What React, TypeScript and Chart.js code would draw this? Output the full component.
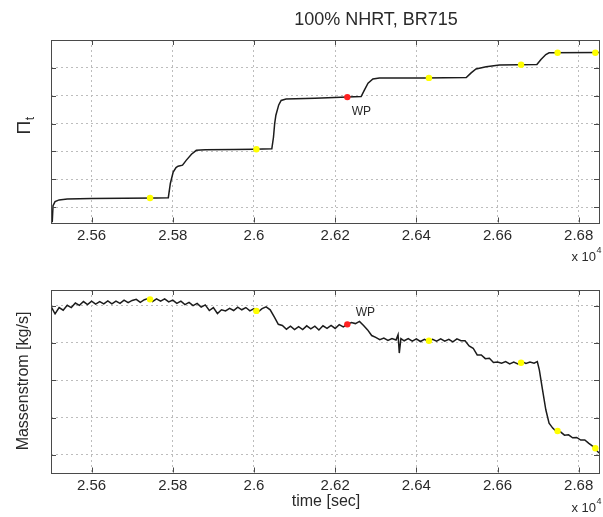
import React, { useEffect, useRef } from "react";
import { Chart, registerables } from "chart.js";

Chart.register(...registerables);

// ---------- data ----------
const TITLE = "100% NHRT, BR715";
const X_LABEL = "time [sec]";
const Y_LABEL_BOTTOM = "Massenstrom [kg/s]";
const WP_LABEL = "WP";

const X_MIN = 25500;
const X_MAX = 26850;
const X_TICKS = [25600, 25800, 26000, 26200, 26400, 26600, 26800];

const PI_Y_MIN = 0.45;
const PI_Y_MAX = 7.0;
const PI_Y_TICKS = [1, 2, 3, 4, 5, 6];

const MASS_Y_MIN = 0.53;
const MASS_Y_MAX = 5.42;
const MASS_Y_TICKS = [1, 2, 3, 4, 5];

const PI_TIME = [
  25503, 25505, 25510, 25520, 25540, 25600, 25680, 25760, 25789, 25794, 25801, 25808,
  25813, 25824, 25833, 25846, 25858, 25880, 25950, 26000, 26044, 26048, 26051, 26054,
  26061, 26067, 26079, 26150, 26230, 26264, 26272, 26281, 26293, 26309, 26420, 26523,
  26535, 26547, 26572, 26605, 26650, 26697, 26707, 26719, 26727, 26850,
];
const PI_VALUES = [
  0.45, 1.05, 1.2, 1.26, 1.29, 1.31, 1.32, 1.33, 1.34, 1.85, 2.26, 2.42,
  2.47, 2.51, 2.68, 2.9, 3.04, 3.06, 3.07, 3.08, 3.1, 3.5, 4.0, 4.3,
  4.67, 4.83, 4.88, 4.91, 4.95, 4.97, 5.2, 5.45, 5.6, 5.64, 5.64, 5.65,
  5.82, 5.96, 6.04, 6.1, 6.11, 6.12, 6.3, 6.48, 6.54, 6.55,
];

const MARK_TIME = [25744, 26006, 26431, 26658, 26748, 26841];
const PI_MARK_VALUES = [1.33, 3.08, 5.64, 6.11, 6.54, 6.54];
const MASS_MARK_VALUES = [5.17, 4.86, 4.06, 3.47, 1.64, 1.18];

const WP_TIME = [26230];
const PI_WP_VALUES = [4.95];
const MASS_WP_VALUES = [4.5];

const MASS_TIME = [
  25500, 25510, 25520, 25530, 25540, 25550, 25560, 25570, 25580, 25590,
  25600, 25610, 25620, 25630, 25640, 25650, 25660, 25670, 25680, 25690,
  25700, 25710, 25720, 25730, 25740, 25750, 25760, 25770, 25780, 25790,
  25800, 25810, 25820, 25830, 25840, 25850, 25860, 25870, 25880, 25890,
  25900, 25910, 25920, 25930, 25940, 25950, 25960, 25970, 25980, 25990,
  26000, 26010, 26020, 26030, 26040, 26050, 26060, 26070, 26080, 26090,
  26100, 26110, 26120, 26130, 26140, 26150, 26160, 26170, 26180, 26190,
  26200, 26210, 26220, 26230, 26240, 26250, 26260, 26270, 26280, 26290,
  26300, 26310, 26320, 26330, 26340, 26350, 26355, 26358, 26362, 26370,
  26380, 26390, 26400, 26410, 26420, 26430, 26440, 26450, 26460, 26470,
  26480, 26490, 26500, 26510, 26520, 26530, 26540, 26550, 26560, 26570,
  26580, 26590, 26600, 26610, 26620, 26630, 26640, 26650, 26660, 26670,
  26680, 26690, 26698, 26703, 26711, 26719, 26727, 26736, 26745, 26755,
  26765, 26775, 26785, 26795, 26805, 26815, 26825, 26835, 26842, 26850,
];
const MASS_VALUES = [
  4.98, 4.78, 4.95, 4.88, 5.01, 4.95, 5.07, 5.01, 5.11, 5.03,
  5.12, 5.04, 5.11, 5.05, 5.13, 5.05, 5.12, 5.06, 5.15, 5.08,
  5.14, 5.17, 5.09, 5.16, 5.19, 5.11, 5.18, 5.12, 5.18, 5.1,
  5.15, 5.06, 5.12, 5.03, 5.09, 5.0, 5.06, 4.96, 5.02, 4.87,
  4.95, 4.79, 4.89, 4.86, 4.93, 4.87, 4.96, 4.89, 4.95, 4.86,
  4.92, 4.83, 4.92, 4.97, 4.89, 4.7, 4.5, 4.47, 4.37, 4.45,
  4.36, 4.44, 4.36, 4.46, 4.38, 4.45, 4.35, 4.46, 4.39, 4.47,
  4.39, 4.49, 4.43, 4.5, 4.55, 4.52, 4.58, 4.47, 4.35, 4.2,
  4.15, 4.09, 4.13, 4.07, 4.12, 4.08, 4.22, 3.73, 4.12, 4.06,
  4.12, 4.05, 4.11, 4.04, 4.1, 4.04, 4.1, 4.05, 4.11, 4.05,
  4.1, 4.03, 4.11, 4.06, 4.06, 3.92, 3.86, 3.68, 3.68, 3.58,
  3.59, 3.48, 3.49, 3.46, 3.5, 3.44, 3.49, 3.44, 3.5, 3.45,
  3.49, 3.46, 3.5, 3.28, 2.74, 2.21, 1.85, 1.72, 1.63, 1.62,
  1.53, 1.54, 1.46, 1.47, 1.4, 1.4, 1.31, 1.23, 1.15, 1.05,
];

// ---------- helpers ----------
const FONT = "'Liberation Sans', Arial, Helvetica, sans-serif";
const TEXT_COLOR = "#2a2a2a";
const FRAME_COLOR = "#4a4a4a";
const GRID_COLOR = "#bdbdbd";

const pts = (xs: number[], ys: number[]) => xs.map((x, i) => ({ x, y: ys[i] }));

function drawTimesTenFour(ctx: CanvasRenderingContext2D, right: number, y: number) {
  ctx.save();
  ctx.fillStyle = TEXT_COLOR;
  ctx.textBaseline = "middle";
  ctx.textAlign = "left";
  ctx.font = `13px ${FONT}`;
  const base = "x 10";
  const wb = ctx.measureText(base).width;
  ctx.font = `9px ${FONT}`;
  const we = ctx.measureText("4").width;
  const start = right - wb - we;
  ctx.font = `13px ${FONT}`;
  ctx.fillText(base, start, y);
  ctx.font = `9px ${FONT}`;
  ctx.fillText("4", start + wb + 0.5, y - 6);
  ctx.restore();
}

function drawFrame(chart: any) {
  const { ctx, chartArea: a, scales } = chart;
  ctx.save();
  ctx.strokeStyle = FRAME_COLOR;
  ctx.lineWidth = 1;
  ctx.strokeRect(Math.round(a.left) + 0.5, Math.round(a.top) + 0.5, Math.round(a.right - a.left), Math.round(a.bottom - a.top));
  const L = 5;
  ctx.beginPath();
  scales.x.ticks.forEach((t: any) => {
    const px = Math.round(scales.x.getPixelForValue(t.value)) + 0.5;
    ctx.moveTo(px, a.bottom);
    ctx.lineTo(px, a.bottom - L);
    ctx.moveTo(px, a.top);
    ctx.lineTo(px, a.top + L);
  });
  scales.y.ticks.forEach((t: any) => {
    const py = Math.round(scales.y.getPixelForValue(t.value)) + 0.5;
    ctx.moveTo(a.left, py);
    ctx.lineTo(a.left + L, py);
    ctx.moveTo(a.right, py);
    ctx.lineTo(a.right - L, py);
  });
  ctx.stroke();
  ctx.restore();
}

function drawWP(chart: any, t: number, v: number, dx: number, dy: number) {
  const { ctx, scales } = chart;
  const px = scales.x.getPixelForValue(t);
  const py = scales.y.getPixelForValue(v);
  ctx.save();
  ctx.fillStyle = TEXT_COLOR;
  ctx.font = `12px ${FONT}`;
  ctx.textAlign = "center";
  ctx.textBaseline = "middle";
  ctx.fillText(WP_LABEL, px + dx, py + dy);
  ctx.restore();
}

const topTextPlugin = {
  id: "topText",
  afterDraw(chart: any) {
    drawFrame(chart);
    const ctx = chart.ctx as CanvasRenderingContext2D;
    ctx.save();
    ctx.fillStyle = TEXT_COLOR;
    ctx.font = `18px ${FONT}`;
    ctx.textAlign = "center";
    ctx.textBaseline = "middle";
    ctx.fillText(TITLE, 376, 20);
    // y label: Pi with subscript t, rotated
    ctx.translate(25, 126);
    ctx.rotate(-Math.PI / 2);
    ctx.font = `19px ${FONT}`;
    const w1 = ctx.measureText("\u03A0").width;
    ctx.font = `12px ${FONT}`;
    const w2 = ctx.measureText("t").width;
    const s = -(w1 + w2) / 2;
    ctx.textAlign = "left";
    ctx.font = `19px ${FONT}`;
    ctx.fillText("\u03A0", s, 0);
    ctx.font = `12px ${FONT}`;
    ctx.fillText("t", s + w1 + 0.5, 6);
    ctx.restore();
    drawTimesTenFour(ctx, 601, 257);
    drawWP(chart, WP_TIME[0], PI_WP_VALUES[0], 14, 15);
  },
};

const BOTTOM_TOP = 268;

const bottomTextPlugin = {
  id: "bottomText",
  afterDraw(chart: any) {
    drawFrame(chart);
    const ctx = chart.ctx as CanvasRenderingContext2D;
    ctx.save();
    ctx.fillStyle = TEXT_COLOR;
    ctx.font = `16px ${FONT}`;
    ctx.textAlign = "center";
    ctx.textBaseline = "middle";
    ctx.fillText(X_LABEL, 326, 502 - BOTTOM_TOP);
    ctx.translate(24, 381 - BOTTOM_TOP);
    ctx.rotate(-Math.PI / 2);
    ctx.fillText(Y_LABEL_BOTTOM, 0, 0);
    ctx.restore();
    drawTimesTenFour(ctx, 601, 508 - BOTTOM_TOP);
    drawWP(chart, WP_TIME[0], MASS_WP_VALUES[0], 18, -12);
  },
};

function makeChart(
  canvas: HTMLCanvasElement,
  line: { x: number; y: number }[],
  marks: { x: number; y: number }[],
  wp: { x: number; y: number }[],
  yMin: number,
  yMax: number,
  yTicks: number[],
  padTop: number,
  xHeight: number,
  lineWidth: number,
  plugin: any
) {
  return new Chart(canvas, {
    type: "scatter",
    data: {
      datasets: [
        {
          data: wp,
          showLine: false,
          pointRadius: 3.2,
          pointBackgroundColor: "#ff2020",
          pointBorderWidth: 0,
          order: 0,
        },
        {
          data: marks,
          showLine: false,
          pointRadius: 3.2,
          pointBackgroundColor: "#ffff00",
          pointBorderWidth: 0,
          order: 1,
        },
        {
          data: line,
          showLine: true,
          borderColor: "#1c1c1c",
          borderWidth: lineWidth,
          pointRadius: 0,
          tension: 0,
          order: 2,
        },
      ],
    },
    options: {
      responsive: false,
      animation: false,
      events: [],
      layout: { padding: { top: padTop, right: 3, left: 0, bottom: 0 } },
      plugins: {
        legend: { display: false },
        tooltip: { enabled: false },
        title: { display: false },
      },
      scales: {
        x: {
          type: "linear",
          min: X_MIN,
          max: X_MAX,
          afterBuildTicks: (s: any) => {
            s.ticks = X_TICKS.map((v) => ({ value: v }));
          },
          afterFit: (s: any) => {
            s.height = xHeight;
          },
          grid: { color: GRID_COLOR, lineWidth: 1, drawTicks: false },
          border: { display: false, dash: [2, 3] },
          ticks: {
            padding: 4,
            color: TEXT_COLOR,
            font: { family: FONT, size: 15 },
            maxRotation: 0,
            autoSkip: false,
            callback: (v: any) => String(Number(v) / 10000),
          },
        },
        y: {
          type: "linear",
          min: yMin,
          max: yMax,
          afterBuildTicks: (s: any) => {
            s.ticks = yTicks.map((v) => ({ value: v }));
          },
          afterFit: (s: any) => {
            s.width = 51;
          },
          grid: { color: GRID_COLOR, lineWidth: 1, drawTicks: false },
          border: { display: false, dash: [2, 3] },
          ticks: { display: false },
        },
      },
    },
    plugins: [plugin],
  } as any);
}

export default function App() {
  const topRef = useRef<HTMLCanvasElement>(null);
  const botRef = useRef<HTMLCanvasElement>(null);

  useEffect(() => {
    const c1 = makeChart(
      topRef.current!,
      pts(PI_TIME, PI_VALUES),
      pts(MARK_TIME, PI_MARK_VALUES),
      pts(WP_TIME, PI_WP_VALUES),
      PI_Y_MIN,
      PI_Y_MAX,
      PI_Y_TICKS,
      40,
      45.5,
      1.5,
      topTextPlugin
    );
    const c2 = makeChart(
      botRef.current!,
      pts(MASS_TIME, MASS_VALUES),
      pts(MARK_TIME, MASS_MARK_VALUES),
      pts(WP_TIME, MASS_WP_VALUES),
      MASS_Y_MIN,
      MASS_Y_MAX,
      MASS_Y_TICKS,
      22,
      44.5,
      1.5,
      bottomTextPlugin
    );
    return () => {
      c1.destroy();
      c2.destroy();
    };
  }, []);

  return (
    <div style={{ position: "absolute", left: 0, top: 0, width: 603, height: 517, background: "#fff" }}>
      <canvas ref={topRef} width={603} height={268} style={{ position: "absolute", left: 0, top: 0, width: 603, height: 268 }} />
      <canvas
        ref={botRef}
        width={603}
        height={249}
        style={{ position: "absolute", left: 0, top: BOTTOM_TOP, width: 603, height: 249 }}
      />
    </div>
  );
}
